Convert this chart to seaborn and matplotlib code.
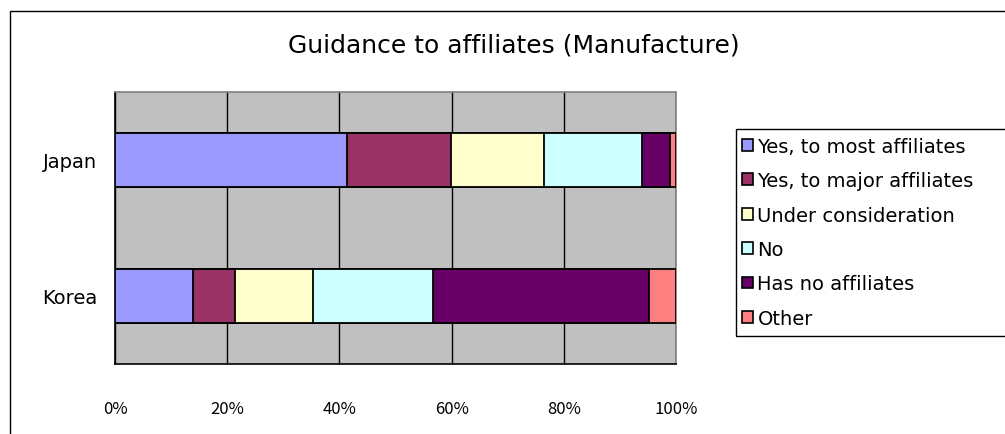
import matplotlib
matplotlib.use("Agg")
import matplotlib.pyplot as plt
import seaborn as sns
import numpy as np
import pandas as pd
from matplotlib.patches import Patch, Rectangle

# data (share of firms, %)
countries = ["Japan", "Korea"]
answers = ["Yes, to most affiliates", "Yes, to major affiliates",
           "Under consideration", "No", "Has no affiliates", "Other"]
japan = [41.4, 18.5, 16.5, 17.5, 5.0, 1.1]
korea = [13.9, 7.5, 13.9, 21.4, 38.4, 4.9]
colors = ["#9999FF", "#993366", "#FFFFCC", "#CCFFFF", "#660066", "#FF8080"]
xticks = [0, 20, 40, 60, 80, 100]

df = pd.DataFrame([japan, korea], index=countries, columns=answers)
df = df.div(df.sum(axis=1), axis=0) * 100
cum = df.cumsum(axis=1)

sns.set_style("white")
plt.rcParams['font.family'] = ['DejaVu Sans']
plt.rcParams['text.color'] = 'black'
plt.rcParams['xtick.color'] = 'black'
plt.rcParams['ytick.color'] = 'black'

W, H = 1005, 435
fig = plt.figure(figsize=(W / 100, H / 100), dpi=100)
# outer chart frame (Excel style, cut at right/bottom)
fig.patches.append(Rectangle((10 / W, -0.05), 1.1, 1 - 12 / H + 0.05,
                             transform=fig.transFigure, fill=False,
                             edgecolor="black", linewidth=1.0))

ax = fig.add_axes([115 / W, 70 / H, 561 / W, 272 / H])
ax.set_facecolor("#C0C0C0")

# stacked bars: draw cumulative totals from the largest down
for i in range(len(answers) - 1, -1, -1):
    tmp = pd.DataFrame({"country": countries, "value": cum[answers[i]].values})
    sns.barplot(data=tmp, x="value", y="country", color=colors[i], orient="h",
                width=0.4, edgecolor="black", linewidth=1.3, saturation=1,
                ax=ax, zorder=3)

ax.set_xlim(0, 100)
ax.set_ylim(1.5, -0.5)
ax.set_xticks(xticks)
ax.set_xticklabels([f"{t}%" for t in xticks], fontsize=12,
                   family="Noto Sans CJK JP")
ax.tick_params(axis="x", length=0, pad=26)
ax.tick_params(axis="y", which="major", length=0, pad=13, labelsize=14)
ax.set_yticks([-0.5, 0.5, 1.5], minor=True)
ax.tick_params(axis="y", which="minor", direction="in", length=7,
               color="black", width=1)
ax.set_xlabel("")
ax.set_ylabel("")
ax.grid(axis="x", color="black", linewidth=1.0)
ax.set_axisbelow(True)
for s in ["left", "bottom"]:
    ax.spines[s].set_color("black")
    ax.spines[s].set_linewidth(1.2)
for s in ["top", "right"]:
    ax.spines[s].set_color("#808080")
    ax.spines[s].set_linewidth(1.2)

fig.text(514 / W, 1 - 45 / H, "Guidance to affiliates (Manufacture)",
         ha="center", va="center", fontsize=18)

# legend frame runs past the right edge of the picture, as in the original
fig.patches.append(Rectangle((736 / W, 1 - 337 / H), 0.5, 207 / H,
                             transform=fig.transFigure, fill=False,
                             edgecolor="black", linewidth=1.0))
handles = [Patch(facecolor=c, edgecolor="black", linewidth=1.2) for c in colors]
leg = fig.legend(handles, answers, loc="upper left",
                 bbox_to_anchor=(737 / W, 1 - 133 / H),
                 frameon=False, fontsize=14,
                 handlelength=0.55, handleheight=0.55, handletextpad=0.25,
                 labelspacing=0.79, borderpad=0.25, borderaxespad=0)

plt.savefig("out.png", dpi=100)
